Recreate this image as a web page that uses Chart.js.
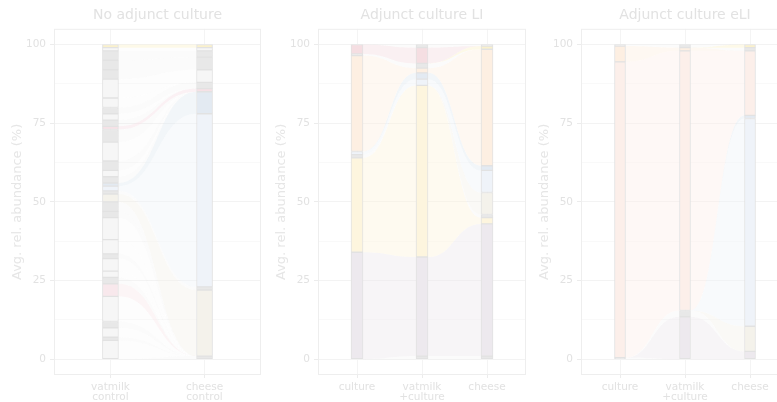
<!DOCTYPE html>
<html>
<head>
  <title>Community composition alluvial plots</title>
  <script src="https://cdn.jsdelivr.net/npm/chart.js"></script>
  <style>
    body { margin: 0; width: 777px; height: 402px; overflow: hidden; background: #ffffff; position: relative; }
    canvas { position: absolute; top: 0; }
  </style>
</head>
<body>
  <canvas id="noAdjunct" width="264" height="402" style="left:0px"></canvas>
  <canvas id="adjunctLI" width="264" height="402" style="left:264px"></canvas>
  <canvas id="adjunctELI" width="264" height="402" style="left:527px"></canvas>

  <script>
    // ---- data: average relative abundance (%) per taxon, bottom to top ----

    // No adjunct culture
    const p1Stages = [['vatmilk', 'control'], ['cheese', 'control']];
    const p1Taxa = ['o01', 'o02', 'o03', 'o04', 'o05', 'o06', 'P1', 'o07', 'o08', 'o09', 'o10',
                    'o11', 'o12', 'o13', 'o14', 'C', 'o15', 'D', 'E', 'o16', 'o17', 'o18', 'o19',
                    'o20', 'P2', 'o21', 'o22', 'o23', 'o24', 'o25', 'o26', 'o27', 'o28', 'o29', 'Y'];
    const p1Vatmilk = [0, 6, 1, 3, 2, 8, 4, 2, 2, 4, 1.5,
                       4.5, 7, 2, 3, 2.5, 1, 1.5, 1, 2, 2, 3, 6,
                       4, 1, 2, 2, 2, 3, 6, 3, 3, 3, 1, 1];
    const p1Cheese  = [1, 0, 0, 0, 0, 0, 0, 0, 0, 0, 0,
                       0, 0, 0, 0, 21, 1, 55, 7, 0, 0, 0, 0,
                       0, 1, 0, 0, 2, 0, 4, 0, 4, 2, 1, 1];

    // Adjunct culture LI
    const p2Stages = ['culture', ['vatmilk', '+culture'], 'cheese'];
    const p2Taxa = ['o30', 'A', 'B', 'o31', 'C', 'D', 'E', 'F', 'o32', 'Y', 'G', 'o33'];
    const p2Culture = [0, 34, 30, 1, 0, 1, 0, 30.5, 0.5, 0, 3, 0];
    const p2Vatmilk = [1, 31.5, 54.5, 0, 0, 2, 2, 1.5, 1.5, 0, 5, 1];
    const p2Cheese  = [1, 42, 2, 1, 7, 7, 1.5, 37, 0, 1, 0, 0.5];

    // Adjunct culture eLI
    const p3Stages = ['culture', ['vatmilk', '+culture'], 'cheese'];
    const p3Taxa = ['o34', 'A', 'o35', 'C', 'D', 'E', 'H', 'F', 'o36', 'Y', 'o37'];
    const p3Culture = [0.5, 0, 0, 0, 0, 0, 94, 5, 0, 0, 0.5];
    const p3Vatmilk = [0, 13.5, 2, 0, 0, 0, 82.5, 1, 0, 0, 1];
    const p3Cheese  = [0, 2.5, 0, 8, 66, 1, 20.5, 0, 1, 1, 0];

    // ---- styling ----
    const taxonFill = {
      A: '#ede9ee', B: '#fdf5de', C: '#f4f2eb', D: '#eff3f9', E: '#e3eaf2',
      F: '#fdefe2', G: '#f5dee2', H: '#fcefea', Y: '#faf1cc',
      P1: '#f8e8ec', P2: '#f6e1e6'
    };
    // darker grey minor taxa; the rest of the minor ones are near-white
    const darkMinor = ['o01', 'o03', 'o05', 'o07', 'o10', 'o13', 'o14', 'o15', 'o16', 'o18',
                       'o20', 'o21', 'o23', 'o26', 'o27', 'o28', 'o30', 'o31', 'o32', 'o33',
                       'o34', 'o35', 'o36', 'o37'];
    const textColor = '#e2e2e2';
    const fontFamily = '"DejaVu Sans", sans-serif';

    function fillOf(name) {
      if (taxonFill[name]) return taxonFill[name];
      return darkMinor.includes(name) ? '#e8e8e8' : '#f6f6f6';
    }

    // minor taxa flows stay very faint so overlaps don't pile up
    function flowAlpha(name) {
      return taxonFill[name] ? 0.45 : 0.18;
    }

    function stackColumn(values) {
      let acc = 0;
      return values.map(v => { const s = acc; acc += v; return [s, acc]; });
    }

    // flows between neighbouring columns, plus the panel frame
    function alluviaPlugin(taxa, columns, barPx) {
      const stacks = columns.map(stackColumn);
      return {
        id: 'alluvia',
        beforeDatasetsDraw(chart) {
          const { ctx, chartArea, scales: { x, y } } = chart;
          ctx.save();
          ctx.beginPath();
          ctx.rect(chartArea.left, chartArea.top, chartArea.width, chartArea.height);
          ctx.clip();
          for (let i = 0; i < columns.length - 1; i++) {
            const x1 = x.getPixelForValue(i + 1) + barPx / 2;
            const x2 = x.getPixelForValue(i + 2) - barPx / 2;
            const xm = (x1 + x2) / 2;
            taxa.forEach((name, k) => {
              if (columns[i][k] <= 0 && columns[i + 1][k] <= 0) return;
              const ya0 = y.getPixelForValue(stacks[i][k][0]);
              const ya1 = y.getPixelForValue(stacks[i][k][1]);
              const yb0 = y.getPixelForValue(stacks[i + 1][k][0]);
              const yb1 = y.getPixelForValue(stacks[i + 1][k][1]);
              ctx.beginPath();
              ctx.moveTo(x1, ya1);
              ctx.bezierCurveTo(xm, ya1, xm, yb1, x2, yb1);
              ctx.lineTo(x2, yb0);
              ctx.bezierCurveTo(xm, yb0, xm, ya0, x1, ya0);
              ctx.closePath();
              ctx.globalAlpha = flowAlpha(name);
              ctx.fillStyle = fillOf(name);
              ctx.fill();
            });
          }
          ctx.restore();
        },
        afterDraw(chart) {
          const { ctx, chartArea } = chart;
          ctx.save();
          ctx.strokeStyle = '#eeeeee';
          ctx.lineWidth = 1;
          ctx.strokeRect(chartArea.left + 0.5, chartArea.top + 0.5, chartArea.width - 1, chartArea.height - 1);
          ctx.restore();
        }
      };
    }

    function makePanel(canvasId, title, stages, taxa, columns, barPx, rightPad) {
      const stacks = columns.map(stackColumn);
      const datasets = taxa.map((name, k) => ({
        label: name,
        data: columns
          .map((col, i) => (col[k] > 0 ? { x: i + 1, y: stacks[i][k] } : null))
          .filter(Boolean),
        backgroundColor: fillOf(name),
        borderColor: '#e2e2e2',
        borderWidth: 1,
        borderSkipped: false,
        barThickness: barPx,
        grouped: false
      }));

      const yTicks = [0, 12.5, 25, 37.5, 50, 62.5, 75, 87.5, 100];

      return new Chart(document.getElementById(canvasId), {
        type: 'bar',
        data: { datasets },
        plugins: [alluviaPlugin(taxa, columns, barPx)],
        options: {
          responsive: false,
          animation: false,
          layout: { padding: { left: 0, right: rightPad, top: 0, bottom: 0 } },
          plugins: {
            legend: { display: false },
            tooltip: { enabled: false },
            title: {
              display: true,
              text: title,
              fullSize: false,
              color: textColor,
              font: { family: fontFamily, size: 14, weight: 'normal', lineHeight: 1.2 },
              padding: { top: 7, bottom: 5 }
            }
          },
          scales: {
            x: {
              type: 'linear',
              stacked: true,
              offset: false,
              min: 0.4,
              max: stages.length + 0.6,
              afterBuildTicks: scale => { scale.ticks = stages.map((s, i) => ({ value: i + 1 })); },
              afterFit: scale => { scale.height = 27; },
              ticks: {
                autoSkip: false,
                maxRotation: 0,
                padding: 4,
                color: textColor,
                font: { family: fontFamily, size: 10.5, lineHeight: 1.0 },
                callback: (v, i) => stages[i]
              },
              grid: { offset: false, color: '#f4f4f4', tickColor: '#ececec', tickLength: 3 },
              border: { display: false }
            },
            y: {
              min: -5,
              max: 105,
              afterBuildTicks: scale => { scale.ticks = yTicks.map(v => ({ value: v })); },
              afterFit: scale => { scale.width = 54; },
              ticks: {
                padding: 4,
                color: textColor,
                font: { family: fontFamily, size: 10.5 },
                callback: v => (v % 25 === 0 ? String(v) : '')
              },
              grid: {
                color: c => (c.tick && c.tick.value % 25 === 0 ? '#f3f3f3' : '#f9f9f9'),
                tickColor: c => (c.tick && c.tick.value % 25 === 0 ? '#ececec' : 'rgba(0,0,0,0)'),
                tickLength: 4
              },
              border: { display: false },
              title: {
                display: true,
                text: 'Avg. rel. abundance (%)',
                color: '#e6e6e6',
                font: { family: fontFamily, size: 13 },
                padding: { top: 10, bottom: 2 }
              }
            }
          }
        }
      });
    }

    makePanel('noAdjunct', 'No adjunct culture', p1Stages, p1Taxa, [p1Vatmilk, p1Cheese], 16, 3);
    makePanel('adjunctLI', 'Adjunct culture LI', p2Stages, p2Taxa, [p2Culture, p2Vatmilk, p2Cheese], 12, 2);
    makePanel('adjunctELI', 'Adjunct culture eLI', p3Stages, p3Taxa, [p3Culture, p3Vatmilk, p3Cheese], 11, 2);
  </script>
</body>
</html>
